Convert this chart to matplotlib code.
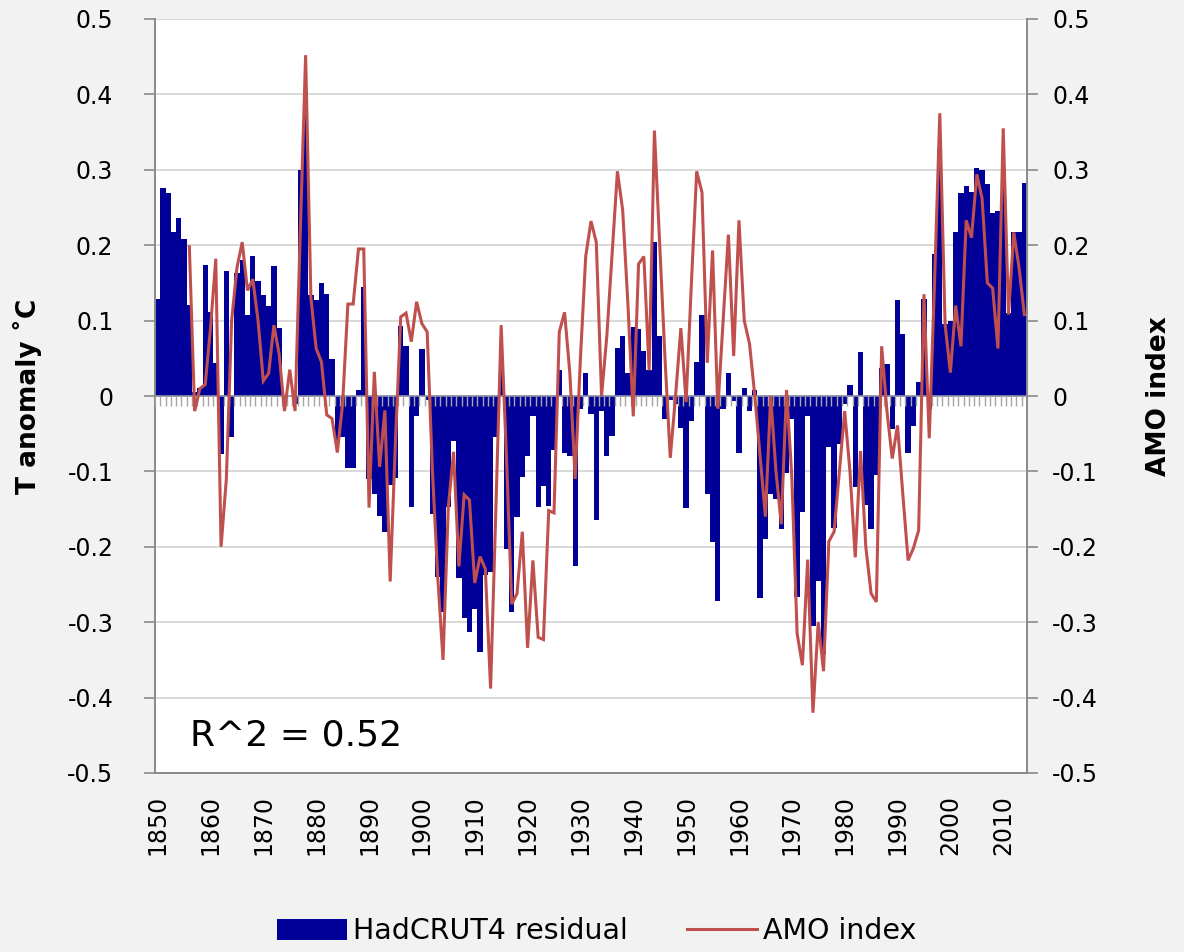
import numpy as np
import matplotlib
matplotlib.use('Agg')
import matplotlib.pyplot as plt
from matplotlib.patches import Patch
from matplotlib.lines import Line2D

plt.rcParams['font.family'] = ['DejaVu Sans']
plt.rcParams['axes.unicode_minus'] = False

years = list(range(1850, 2015))
hadcrut_resid = [
    0.128, 0.276, 0.269, 0.217, 0.236, 0.208, 0.121, 0.005, 0.010, 0.174,   # 1850-1859
    0.111, 0.044, -0.077, 0.166, -0.055, 0.163, 0.180, 0.108, 0.186, 0.153,  # 1860-1869
    0.134, 0.120, 0.172, 0.090, -0.010, 0.000, -0.010, 0.300, 0.404, 0.134,  # 1870-1879
    0.127, 0.150, 0.135, 0.049, -0.060, -0.055, -0.096, -0.096, 0.008, 0.145, # 1880-1889
    -0.110, -0.130, -0.159, -0.181, -0.118, -0.109, 0.093, 0.066, -0.147, -0.027, # 1890-1899
    0.062, -0.005, -0.156, -0.240, -0.286, -0.147, -0.060, -0.242, -0.295, -0.313, # 1900-1909
    -0.282, -0.340, -0.237, -0.233, -0.054, 0.039, -0.203, -0.287, -0.160, -0.107, # 1910-1919
    -0.080, -0.027, -0.147, -0.120, -0.146, -0.072, 0.034, -0.075, -0.080, -0.226, # 1920-1929
    -0.017, 0.031, -0.024, -0.165, -0.020, -0.080, -0.053, 0.063, 0.079, 0.031,  # 1930-1939
    0.092, 0.089, 0.060, 0.034, 0.204, 0.079, -0.030, -0.005, -0.010, -0.043,   # 1940-1949
    -0.149, -0.033, 0.045, 0.107, -0.130, -0.193, -0.272, -0.017, 0.031, -0.007, # 1950-1959
    -0.075, 0.010, -0.020, 0.008, -0.268, -0.190, -0.130, -0.137, -0.177, -0.102, # 1960-1969
    -0.030, -0.266, -0.154, -0.027, -0.305, -0.246, -0.342, -0.067, -0.175, -0.063, # 1970-1979
    -0.010, 0.014, -0.121, 0.058, -0.145, -0.176, -0.105, 0.037, 0.043, -0.044,  # 1980-1989
    0.127, 0.082, -0.075, -0.040, 0.018, 0.128, -0.017, 0.188, 0.328, 0.095,    # 1990-1999
    0.100, 0.218, 0.269, 0.278, 0.270, 0.302, 0.300, 0.281, 0.243, 0.246,       # 2000-2009
    0.294, 0.110, 0.218, 0.218, 0.283,                                          # 2010-2014
]

amo_years = list(range(1856, 2015))
amo_index = [
    0.198, -0.020, 0.010, 0.015,                                                # 1856-1859
    0.090, 0.182, -0.200, -0.110, 0.100, 0.170, 0.204, 0.140, 0.155, 0.100,     # 1860-1869
    0.020, 0.030, 0.094, 0.055, -0.020, 0.035, -0.020, 0.220, 0.452, 0.130,     # 1870-1879
    0.063, 0.045, -0.025, -0.030, -0.075, -0.010, 0.122, 0.122, 0.195, 0.195,   # 1880-1889
    -0.148, 0.032, -0.094, -0.019, -0.246, -0.060, 0.105, 0.110, 0.072, 0.125,  # 1890-1899
    0.096, 0.085, -0.100, -0.240, -0.350, -0.147, -0.074, -0.226, -0.131, -0.138, # 1900-1909
    -0.248, -0.213, -0.229, -0.388, -0.150, 0.094, -0.080, -0.276, -0.262, -0.180, # 1910-1919
    -0.334, -0.218, -0.320, -0.323, -0.152, -0.155, 0.085, 0.111, 0.030, -0.110, # 1920-1929
    0.050, 0.185, 0.232, 0.204, 0.000, 0.080, 0.190, 0.298, 0.246, 0.120,       # 1930-1939
    -0.027, 0.175, 0.185, 0.034, 0.352, 0.200, 0.050, -0.082, 0.000, 0.090,     # 1940-1949
    -0.008, 0.150, 0.298, 0.270, 0.044, 0.193, -0.017, 0.100, 0.214, 0.053,     # 1950-1959
    0.233, 0.100, 0.069, 0.000, -0.080, -0.160, 0.000, -0.100, -0.170, 0.008,   # 1960-1969
    -0.107, -0.315, -0.357, -0.217, -0.420, -0.300, -0.365, -0.193, -0.180, -0.100, # 1970-1979
    -0.020, -0.100, -0.214, -0.073, -0.200, -0.262, -0.273, 0.066, -0.020, -0.083, # 1980-1989
    -0.039, -0.130, -0.218, -0.202, -0.178, 0.135, -0.056, 0.150, 0.375, 0.095, # 1990-1999
    0.031, 0.120, 0.066, 0.233, 0.210, 0.294, 0.262, 0.150, 0.143, 0.063,       # 2000-2009
    0.355, 0.108, 0.217, 0.170, 0.108,                                          # 2010-2014
]

tick_years = list(range(1850, 2011, 10))
y_ticks = [-0.5, -0.4, -0.3, -0.2, -0.1, 0, 0.1, 0.2, 0.3, 0.4, 0.5]
y_ticklabels = ['-0.5', '-0.4', '-0.3', '-0.2', '-0.1', '0', '0.1', '0.2', '0.3', '0.4', '0.5']

bar_color = '#000099'
line_color = '#c0504d'
spine_color = '#8a8a8a'
grid_color = '#d9d9d9'

fig = plt.figure(figsize=(11.84, 9.52), dpi=100, facecolor='#f2f2f2')
ax = fig.add_axes([155 / 1184, 1 - 773 / 952, 872 / 1184, 754 / 952])
ax.set_facecolor('white')

x = np.arange(len(years))
ax.bar(x, hadcrut_resid, width=1.0, color=bar_color, linewidth=0, zorder=2)
ax.set_xlim(-0.5, len(years) - 0.5)
ax.set_ylim(-0.5, 0.5)

# category axis at zero with its small tick marks
ax.axhline(0, color='#8f8fa8', lw=1.2, zorder=3)
ax.vlines(np.arange(len(years) + 1) - 0.5, -0.013, 0, color='#a6a6a6', lw=1.0, zorder=3)

ax.set_yticks(y_ticks)
ax.set_yticklabels(y_ticklabels)
ax.yaxis.grid(True, color=grid_color, lw=1.4, zorder=0)
ax.set_axisbelow(True)
ax.tick_params(axis='y', direction='out', length=8, width=1.2, color=spine_color,
               labelsize=17, pad=22)

tick_pos = [years.index(y) for y in tick_years]
ax.set_xticks(tick_pos)
ax.set_xticklabels([str(y) for y in tick_years], rotation=90, va='top')
ax.tick_params(axis='x', length=0, labelsize=17, pad=16)

for side in ['left', 'bottom']:
    ax.spines[side].set_color(spine_color)
    ax.spines[side].set_linewidth(1.4)
ax.spines['top'].set_visible(False)
ax.spines['right'].set_visible(False)

ax.set_ylabel('T anomaly ˚C', fontsize=19, fontweight='bold')
ax.yaxis.set_label_coords(-0.13, 0.5)

ax2 = ax.twinx()
amo_x = [years.index(y) for y in amo_years]
ax2.plot(amo_x, amo_index, color=line_color, lw=2.2, zorder=4, solid_joinstyle='miter')
ax2.set_ylim(-0.5, 0.5)
ax2.set_yticks(y_ticks)
ax2.set_yticklabels(y_ticklabels)
ax2.tick_params(axis='y', direction='out', length=8, width=1.2, color=spine_color,
                labelsize=17, pad=10)
ax2.spines['right'].set_color(spine_color)
ax2.spines['right'].set_linewidth(1.4)
for side in ['left', 'top', 'bottom']:
    ax2.spines[side].set_visible(False)
ax2.set_ylabel('AMO index', fontsize=19, fontweight='bold')
ax2.yaxis.set_label_coords(1.137, 0.5)

ax.text(0.04, 0.05, 'R^2 = 0.52', transform=ax.transAxes, fontsize=26,
        ha='left', va='center', zorder=5)

handles = [Patch(facecolor=bar_color, edgecolor='none', label='HadCRUT4 residual'),
           Line2D([0], [0], color=line_color, lw=2.2, label='AMO index')]
fig.legend(handles=handles, loc='center', bbox_to_anchor=(0.504, 0.022), ncol=2,
           frameon=False, fontsize=20.5, handlelength=2.45, handleheight=0.75,
           handletextpad=0.2, columnspacing=2.1)

fig.savefig('out.png', dpi=100, facecolor=fig.get_facecolor())
